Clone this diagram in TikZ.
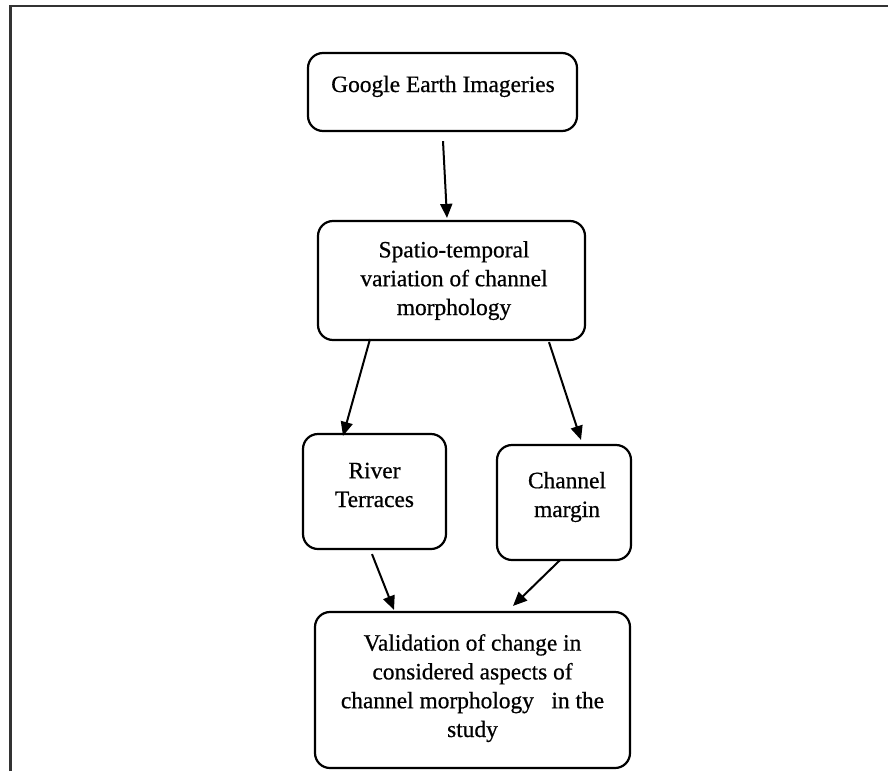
\documentclass[tikz,border=0pt]{standalone}
\usepackage{fontspec}
\setmainfont{Liberation Serif}[UprightFeatures={FakeBold=0.6}]
\usetikzlibrary{arrows.meta,calc}
\begin{document}
\begin{tikzpicture}[x=1pt,y=-1pt,
  box/.style={draw=black,line width=2.2pt,rounded corners=15pt,inner sep=0pt},
  txt/.style={align=center,inner sep=0pt,anchor=base,font=\fontsize{23.4}{28.8}\selectfont},
  arr/.style={line width=2pt,-{Triangle[length=14pt,width=12pt]}},
  frame/.style={draw=black!80,line width=2.5pt}]
\useasboundingbox (0,0) rectangle (888,771);
\draw[frame] (10.5,771) -- (10.5,6) -- (888,6);
\node[box,minimum width=269pt,minimum height=78pt] (g) at (442.5,92) {};
\node[txt] (gt) at (443,92) {Google Earth Imageries};
\node[box,minimum width=267pt,minimum height=119pt] (s) at (451.5,280.5) {};
\node[txt] (st) at (454,315) {Spatio-temporal\\variation of channel\\morphology};
\node[box,minimum width=143pt,minimum height=115pt] (r) at (374.5,491.5) {};
\node[txt] (rt) at (374.5,507) {River\\Terraces};
\node[box,minimum width=134pt,minimum height=115pt] (c) at (564,502.5) {};
\node[txt] (ct) at (567,517) {Channel\\margin};
\node[box,minimum width=315pt,minimum height=156pt] (v) at (472.5,690) {};
\node[txt] (vt) at (472.5,737) {Validation of change in\\considered aspects of\\channel morphology\ \ \ in the\\study};
\draw[arr] ($(g.south)+(0.5,9)$) -- ($(s.north)+(-4.5,-2)$);
\draw[arr] ($(s.south)+(-81.5,-2)$) -- ($(r.north)+(-31.5,3)$);
\draw[arr] ($(s.south)+(97.5,1)$) -- ($(c.north)+(17,-4)$);
\draw[arr] ($(r.south)+(-2.5,4)$) -- ($(v.north)+(-78.5,-1)$);
\draw[arr] ($(c.south)+(-4,-1)$) -- ($(v.north)+(40.5,-5)$);
\end{tikzpicture}
\end{document}
